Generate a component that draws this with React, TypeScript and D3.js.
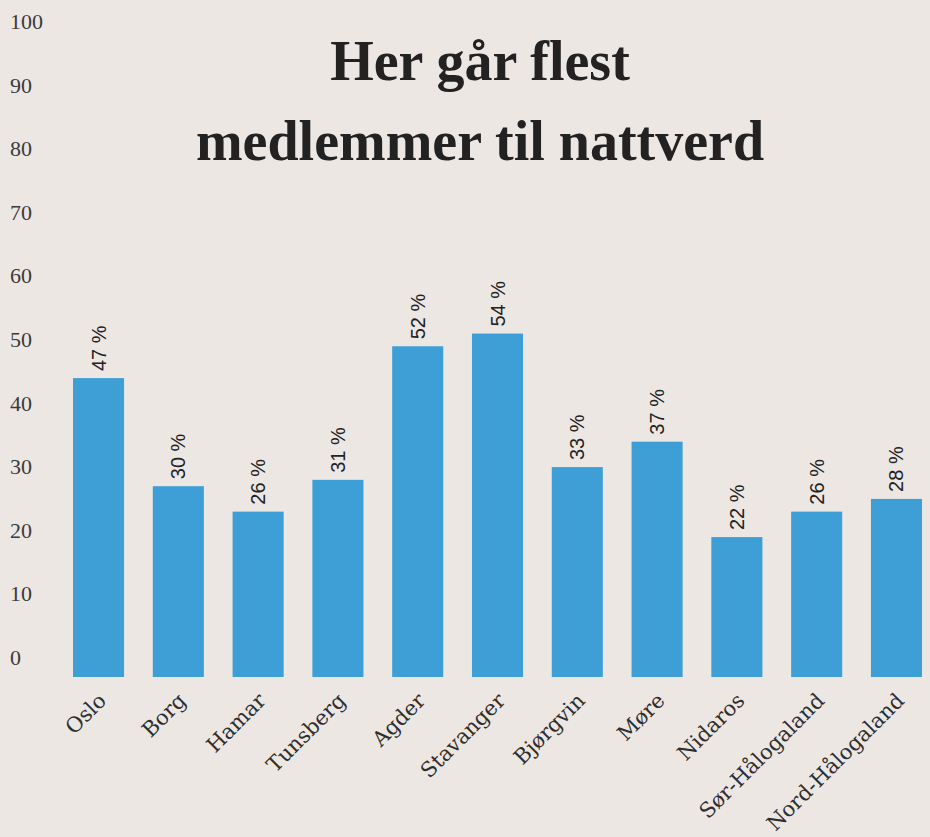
import React from "react";
import * as d3 from "d3";

const categories = ["Oslo", "Borg", "Hamar", "Tunsberg", "Agder", "Stavanger", "Bjørgvin", "Møre", "Nidaros", "Sør-Hålogaland", "Nord-Hålogaland"];
const values = [47, 30, 26, 31, 52, 54, 33, 37, 22, 26, 28];
const yTicks = [0, 10, 20, 30, 40, 50, 60, 70, 80, 90, 100];
const titleLines = ["Her går flest", "medlemmer til nattverd"];

const W = 930;
const H = 837;
const BG = "#ede7e4";
const BAR = "#3e9fd6";

export default function App() {
  const x = d3.scaleBand<string>().domain(categories).range([73, 922]).paddingInner(0.36).paddingOuter(0);
  const y = d3.scaleLinear().domain([0, 100]).range([677, 41]);

  return (
    <svg width={W} height={H} style={{ position: "absolute", left: 0, top: 0, background: BG }}>
      <rect x={0} y={0} width={W} height={H} fill={BG} />
      {yTicks.map((t) => (
        <text key={t} x={10} y={y(t) - 12} fontFamily="Liberation Serif" fontSize={22} fill="#3a3a3a">
          {t}
        </text>
      ))}
      {titleLines.map((line, i) => (
        <text
          key={line}
          x={480}
          y={80 + i * 80}
          textAnchor="middle"
          fontFamily="Liberation Serif"
          fontWeight="bold"
          fontSize={56}
          fill="#222"
        >
          {line}
        </text>
      ))}
      {categories.map((c, i) => {
        const bx = x(c) as number;
        const bw = x.bandwidth();
        const cx = bx + bw / 2;
        const top = y(values[i]);
        return (
          <g key={c}>
            <rect x={bx} y={top} width={bw} height={y(0) - top} fill={BAR} />
            <text
              transform={`translate(${cx + 7},${top - 7}) rotate(-90)`}
              fontFamily="Liberation Sans"
              fontSize={20}
              fill="#222"
            >
              {values[i]} %
            </text>
            <text
              transform={`translate(${cx + 9},${702}) rotate(-45)`}
              textAnchor="end"
              fontFamily="DejaVu Serif"
              fontSize={21}
              fill="#2e2e2e"
            >
              {c}
            </text>
          </g>
        );
      })}
    </svg>
  );
}
